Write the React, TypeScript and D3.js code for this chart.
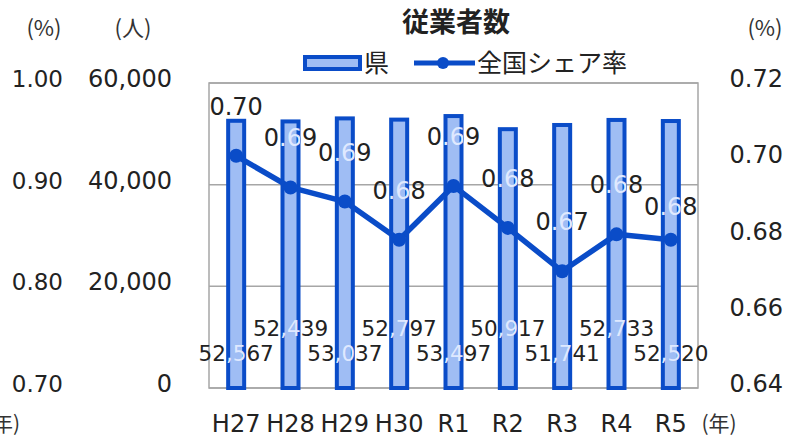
import React from "react";
import * as d3 from "d3";

const categories = ["H27", "H28", "H29", "H30", "R1", "R2", "R3", "R4", "R5"];
const employees = [52567, 52439, 53037, 52797, 53497, 50917, 51741, 52733, 52520];
const shareRate = [0.7009, 0.6926, 0.6889, 0.6789, 0.693, 0.682, 0.6706, 0.6803, 0.6789];
const leftTicks = [0, 20000, 40000, 60000];
const rightTicks = [0.64, 0.66, 0.68, 0.7, 0.72];
const outerTicks = [0.7, 0.8, 0.9, 1.0];

const W = 801;
const H = 437;
const PL = 209;
const PR = 698;
const PT = 83;
const PB = 388;
const JFONT = "'Noto Sans CJK JP', 'Noto Sans', sans-serif";
const NFONT = "'DejaVu Sans', 'Noto Sans CJK JP', sans-serif";
const BAR_FILL = "#9fbdf4";
const BLUE = "#0a4cc8";
const GRID = "#a6a6a6";
const TXT = "#222";

// label vertical offset above point (style, not data)
const rateLabelOffset = [41, 41, 41, 41, 41, 41, 41, 41, 25];

export default function App() {
  const x = d3.scaleBand<string>().domain(categories).range([PL, PR]);
  const yL = d3.scaleLinear().domain([0, 60000]).range([PB, PT]);
  const yR = d3.scaleLinear().domain([0.64, 0.72]).range([PB, PT]);
  const yO = d3.scaleLinear().domain([0.7, 1.0]).range([PB, PT]);
  const cx = (c: string) => (x(c) as number) + x.bandwidth() / 2;
  const fmt = d3.format(",");
  const barW = 16;
  const sw = 4;

  const line = d3
    .line<number>()
    .x((_, i) => cx(categories[i]))
    .y((d) => yR(d));

  const labels = (color: string) => (
    <>
      {employees.map((v, i) => (
        <text
          key={"bl" + i}
          x={cx(categories[i])}
          y={i % 2 === 0 ? 361 : 336}
          textAnchor="middle"
          fontSize={21.5}
          fill={color}
        >
          {fmt(v)}
        </text>
      ))}
      {shareRate.map((v, i) => (
        <text
          key={"ll" + i}
          x={cx(categories[i])}
          y={yR(v) - rateLabelOffset[i]}
          textAnchor="middle"
          fontSize={24}
          fill={color}
        >
          {v.toFixed(2)}
        </text>
      ))}
    </>
  );

  return (
    <svg
      width={W}
      height={H}
      style={{ position: "absolute", left: 0, top: 0, background: "#fff" }}
      fontFamily={NFONT}
    >
      <defs>
        <clipPath id="barOuter">
          {employees.map((v, i) => (
            <rect
              key={"cp" + i}
              x={cx(categories[i]) - barW / 2 - sw / 2}
              y={yL(v) - sw / 2}
              width={barW + sw}
              height={PB - yL(v) + sw}
            />
          ))}
        </clipPath>
      </defs>
      <rect x={0} y={0} width={W} height={H} fill="#fff" />
      {/* title */}
      <text x={456} y={32} textAnchor="middle" fontSize={27} fontWeight="bold" fill={TXT} fontFamily={JFONT}>
        従業者数
      </text>
      {/* unit labels */}
      <text x={44} y={36} textAnchor="middle" fontSize={22} fill="#333" fontFamily={JFONT}>(%)</text>
      <text x={133} y={36} textAnchor="middle" fontSize={22} fill="#333" fontFamily={JFONT}>(人)</text>
      <text x={765} y={36} textAnchor="middle" fontSize={22} fill="#333" fontFamily={JFONT}>(%)</text>
      <text x={20} y={431} textAnchor="end" fontSize={21} fill="#333" fontFamily={JFONT}>(年)</text>
      <text x={719} y={431} textAnchor="middle" fontSize={21} fill="#333" fontFamily={JFONT}>(年)</text>

      {/* legend */}
      <rect x={305} y={57} width={55} height={12} fill={BAR_FILL} stroke={BLUE} strokeWidth={4} />
      <text x={364} y={72} fontSize={25} fill={TXT} fontFamily={JFONT}>県</text>
      <line x1={414} x2={475} y1={63} y2={63} stroke={BLUE} strokeWidth={5} />
      <circle cx={443} cy={63} r={6} fill={BLUE} />
      <text x={477} y={72} fontSize={25} fill={TXT} fontFamily={JFONT}>全国シェア率</text>

      {/* grid and border */}
      {leftTicks.map((t) => (
        <line key={"g" + t} x1={PL} x2={PR} y1={yL(t)} y2={yL(t)} stroke={GRID} strokeWidth={1.5} />
      ))}
      <rect x={PL} y={PT} width={PR - PL} height={PB - PT} fill="none" stroke={GRID} strokeWidth={1.5} />

      {/* outer left axis */}
      {outerTicks.map((t) => (
        <text key={"o" + t} x={63} y={yO(t) + 4} textAnchor="end" fontSize={23} fill={TXT}>
          {t.toFixed(2)}
        </text>
      ))}
      {/* left axis */}
      {leftTicks.map((t) => (
        <text key={"l" + t} x={172} y={yL(t) + 4} textAnchor="end" fontSize={24} fill={TXT}>
          {fmt(t)}
        </text>
      ))}
      {/* right axis */}
      {rightTicks.map((t) => (
        <text key={"r" + t} x={783} y={yR(t) + 4} textAnchor="end" fontSize={24} fill={TXT}>
          {t.toFixed(2)}
        </text>
      ))}
      {/* x axis */}
      {categories.map((c) => (
        <text key={"x" + c} x={cx(c)} y={432} textAnchor="middle" fontSize={24} fill={TXT}>
          {c}
        </text>
      ))}

      {/* value labels (behind bars) */}
      {labels(TXT)}

      {/* bars */}
      {employees.map((v, i) => (
        <rect
          key={"b" + i}
          x={cx(categories[i]) - barW / 2}
          y={yL(v)}
          width={barW}
          height={PB - yL(v)}
          fill={BAR_FILL}
          stroke={BLUE}
          strokeWidth={sw}
        />
      ))}

      {/* label parts seen through bars */}
      <g clipPath="url(#barOuter)">{labels("#dfe9ff")}</g>

      {/* line */}
      <path d={line(shareRate) || ""} fill="none" stroke={BLUE} strokeWidth={5.5} strokeLinejoin="round" />
      {shareRate.map((v, i) => (
        <circle key={"c" + i} cx={cx(categories[i])} cy={yR(v)} r={7} fill={BLUE} />
      ))}
    </svg>
  );
}
